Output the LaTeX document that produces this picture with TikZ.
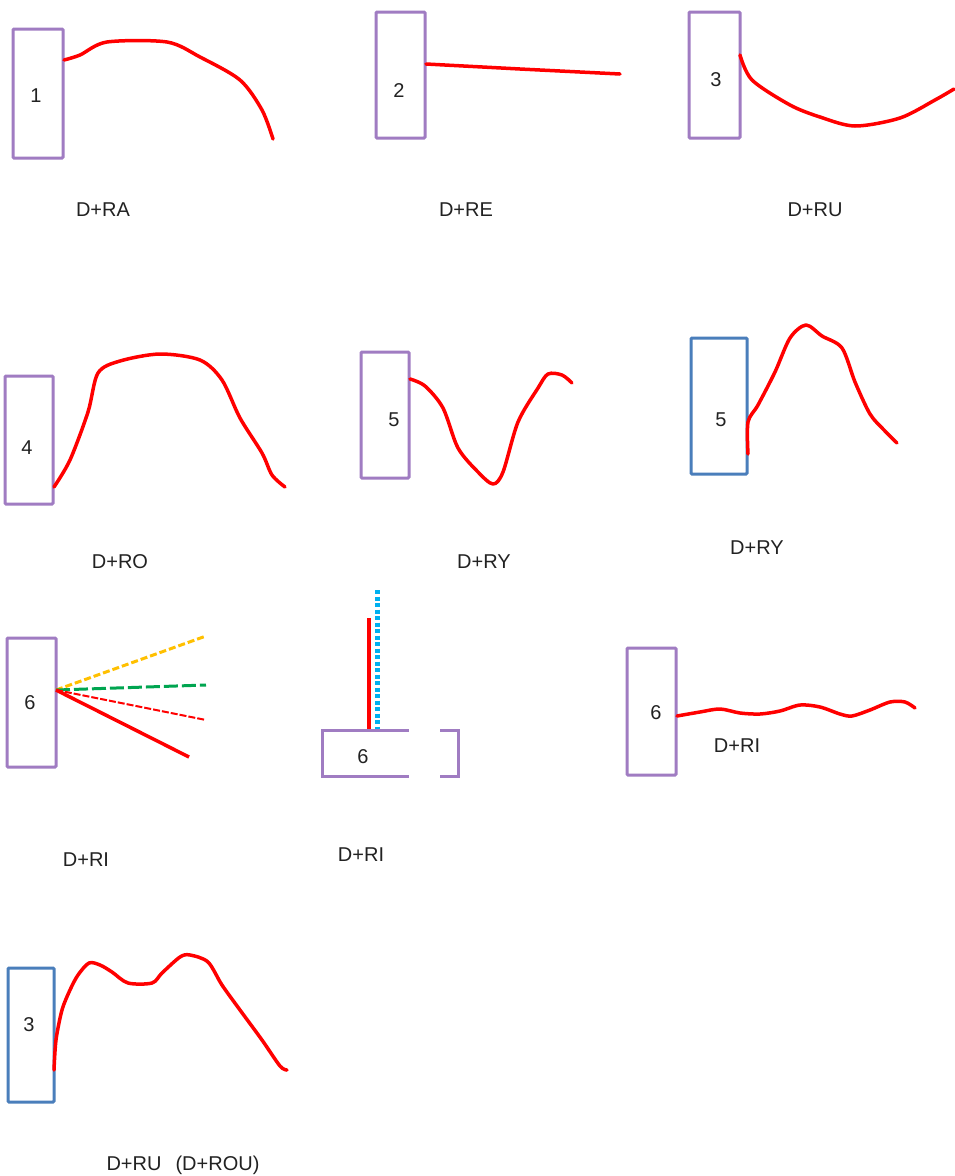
\documentclass[tikz,border=0pt]{standalone}
\usepackage{fontspec}
\setmainfont{Liberation Sans}
\begin{document}
\begin{tikzpicture}[x=1pt,y=-1pt,
  pbox/.style={draw=boxpurple,line width=3pt,rounded corners=1pt,inner sep=0pt},
  bbox/.style={draw=boxblue,line width=3pt,rounded corners=1pt,inner sep=0pt},
  num/.style={text=txt,font=\fontsize{20}{22}\selectfont,inner sep=0pt},
  lbl/.style={text=txt,font=\fontsize{20}{22}\selectfont,inner sep=0pt},
  wave/.style={draw=red,line width=3.5pt,line cap=round,line join=round}]
\definecolor{boxpurple}{HTML}{A07CC2}
\definecolor{boxblue}{HTML}{4A7EBB}
\definecolor{txt}{HTML}{222222}
\definecolor{ylw}{HTML}{FFC000}
\definecolor{grn}{HTML}{00A550}
\definecolor{cyn}{HTML}{00B0F0}
\useasboundingbox[fill=white] (0,0) rectangle (954,1176);

% panel 1
\node[pbox,minimum width=50pt,minimum height=129pt] (b1) at (38,93.5) {};
\node[num] (n1) at (36,96) {1};
\draw[wave] plot[smooth,tension=0.5] coordinates {(64,60) (80,55) (107,42) (167,42) (200,57) (240,80) (262,110) (273,139)};
\node[lbl] (l1) at (103,210) {D+RA};

% panel 2
\node[pbox,minimum width=49pt,minimum height=126pt] (b2) at (400.5,75) {};
\node[num] (n2) at (399,91) {2};
\draw[wave] (426,64) -- (520,69) -- (620,74);
\node[lbl] (l2) at (466,210) {D+RE};

% panel 3
\node[pbox,minimum width=51pt,minimum height=126pt] (b3) at (714.5,75) {};
\node[num] (n3) at (716,80) {3};
\draw[wave] plot[smooth,tension=0.5] coordinates {(740,55) (752,80) (790,105) (820,117) (855,126) (900,118) (935,100) (954,89)};
\node[lbl] (l3) at (815,210) {D+RU};

% panel 4
\node[pbox,minimum width=48pt,minimum height=128pt] (b4) at (29,440) {};
\node[num] (n4) at (27,448) {4};
\draw[wave] plot[smooth,tension=0.5] coordinates {(54,487) (70,460) (88,412) (98,373) (120,361) (160,354) (200,360) (222,380) (240,418) (262,453) (272,475) (285,487)};
\node[lbl] (l4) at (120,562) {D+RO};

% panel 5a
\node[pbox,minimum width=48pt,minimum height=126pt] (b5) at (385,415) {};
\node[num] (n5) at (394,420) {5};
\draw[wave] plot[smooth,tension=0.5] coordinates {(410,379) (425,386) (443,408) (458,448) (478,472) (493,484) (503,472) (518,422) (538,388) (548,374) (562,375) (572,383)};
\node[lbl] (l5) at (484,562) {D+RY};

% panel 5b
\node[bbox,minimum width=56pt,minimum height=136pt] (b6) at (719,406) {};
\node[num] (n6) at (721,420) {5};
\draw[wave] plot[smooth,tension=0.5] coordinates {(748,454) (748,422) (758,405) (775,372) (790,338) (806,325) (822,336) (842,348) (855,382) (870,414) (884,430) (897,443)};
\node[lbl] (l6) at (757,548) {D+RY};

% panel 6a
\node[pbox,minimum width=49pt,minimum height=129pt] (b7) at (31.5,702.5) {};
\node[num] (n7) at (30,703) {6};
\coordinate (o7) at (56,690);
\coordinate (e7a) at (206,636);
\coordinate (e7b) at (206,685);
\coordinate (e7c) at (206,720);
\coordinate (e7d) at (189,757);
\draw[ylw,line width=3pt,dash pattern=on 7pt off 3pt] (o7) -- (e7a);
\draw[grn,line width=3pt,dash pattern=on 14pt off 4pt] (o7) -- (e7b);
\draw[red,line width=2pt,dash pattern=on 7pt off 2pt] (o7) -- (e7c);
\draw[red,line width=3.5pt] (o7) -- (e7d);
\node[lbl] (l7) at (86,860) {D+RI};

% panel 6b
\node[pbox,minimum width=136pt,minimum height=46pt,rounded corners=0pt] (b8) at (390,753) {};
\draw[white,line width=4.5pt] (409,730) -- (440,730) (409,776) -- (440,776);
\node[num] (n8) at (363,757) {6};
\coordinate (t8r) at (369,618);
\coordinate (t8c) at (377,590);
\draw[red,line width=3.5pt] (t8r) -- (369,729);
\draw[cyn,line width=5pt,dash pattern=on 4pt off 2.5pt] (t8c) -- (377,729);
\node[lbl] (l8) at (361,855) {D+RI};

% panel 6c
\node[pbox,minimum width=49pt,minimum height=127pt] (b9) at (651.5,711.5) {};
\node[num] (n9) at (656,713) {6};
\draw[wave] plot[smooth,tension=0.5] coordinates {(677,716) (700,712) (720,709) (740,713) (760,714) (780,711) (800,705) (820,707) (840,714) (852,716) (870,710) (890,702) (905,702) (915,708)};
\node[lbl] (l9) at (737,746) {D+RI};

% panel 7
\node[bbox,minimum width=46pt,minimum height=134pt] (b10) at (31,1035) {};
\node[num] (n10) at (29,1025) {3};
\draw[wave] plot[smooth,tension=0.5] coordinates {(54,1070) (56,1040) (62,1010) (70,990) (78,975) (89,963) (100,965) (112,972) (128,983) (152,983) (162,973) (180,957) (190,955) (208,962) (222,985) (240,1010) (262,1040) (280,1066) (287,1070)};
\node[lbl] (l10) at (183,1165) {D+RU\hspace{14pt}(D+ROU)};
\end{tikzpicture}
\end{document}
